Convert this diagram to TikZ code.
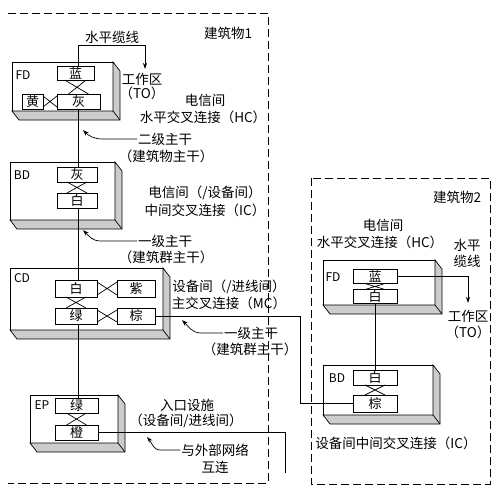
\documentclass[tikz,border=0pt]{standalone}
\usepackage{fontspec}
\setmainfont{Noto Sans CJK SC}
\usetikzlibrary{arrows.meta,calc}
\newcommand\threed[1]{%
  \filldraw[sidefill] (#1.north east) -- ++(7,9) -- ($(#1.south east)+(7,9)$) -- ($(#1.south west)+(7,9)$) -- (#1.south west) -- (#1.south east) -- cycle;
  \draw[thinline] (#1.south east) -- ++(7,9);}
\newcommand\vcross[2]{\draw[thinline] ($(#1.south)+(-10,0)$) -- ($(#2.north)+(10,0)$) ($(#1.south)+(10,0)$) -- ($(#2.north)+(-10,0)$);}
\newcommand\hcross[2]{\draw[thinline] ($(#1.north east)+(0,2)$) -- ($(#2.south west)+(0,-2)$) ($(#1.south east)+(0,-2)$) -- ($(#2.north west)+(0,2)$);}
\begin{document}
\begin{tikzpicture}[x=1pt,y=-1pt,
  every node/.style={inner sep=0pt, outer sep=0pt},
  thinline/.style={line width=0.7pt},
  lbl/.style={font=\fontsize{13.5pt}{15pt}\selectfont, inner sep=1pt},
  tag/.style={font=\fontsize{12pt}{14pt}\selectfont},
  face/.style={draw, line width=0.7pt, fill=white, anchor=north west},
  sidefill/.style={draw, line width=0.7pt, fill=black!20},
  ibox/.style={draw, line width=0.7pt, fill=white, font=\fontsize{13pt}{14pt}\selectfont},
  bldg/.style={line width=0.8pt, dash pattern=on 8pt off 4pt},
  arr/.style={thinline, -{Stealth[length=6pt,width=4pt]}},
  ptr/.style={thinline, -{Stealth[length=6pt,width=4pt]}}
]
\useasboundingbox (0,0) rectangle (502,498);

% buildings
\draw[bldg] (8,13) -- (268,13) -- (268,483) -- (8,483);
\draw[bldg] (311,178) rectangle (490,484);

% ---------- building 1 ----------
\node[face, minimum width=101pt, minimum height=49pt] (fd1) at (12,62) {};
\threed{fd1}
\node[face, minimum width=105pt, minimum height=58pt] (bd1) at (10,162) {};
\threed{bd1}
\node[face, minimum width=153pt, minimum height=62pt] (cd) at (10,268) {};
\threed{cd}
\node[face, minimum width=88pt, minimum height=48pt] (ep) at (30,395) {};
\threed{ep}

\node[ibox, minimum width=37pt, minimum height=14pt] (lan1) at (75.5,73.5) {蓝};
\node[ibox, minimum width=43pt, minimum height=15pt] (hui1) at (78.5,101.5) {灰};
\node[ibox, minimum width=21pt, minimum height=15pt] (huang) at (32.5,101.5) {黄};
\node[ibox, minimum width=40pt, minimum height=15pt] (hui2) at (77,174.5) {灰};
\node[ibox, minimum width=40pt, minimum height=15pt] (bai2) at (77,200.5) {白};
\node[ibox, minimum width=42pt, minimum height=17pt] (bai3) at (76,288.5) {白};
\node[ibox, minimum width=38pt, minimum height=17pt] (zi) at (136,288.5) {紫};
\node[ibox, minimum width=42pt, minimum height=16pt] (lv3) at (76,316) {绿};
\node[ibox, minimum width=38pt, minimum height=16pt] (zong3) at (136,316) {棕};
\node[ibox, minimum width=43pt, minimum height=15pt] (lv4) at (76.5,405.5) {绿};
\node[ibox, minimum width=43pt, minimum height=15pt] (cheng) at (76.5,432.5) {橙};

\vcross{lan1}{hui1}
\hcross{huang}{hui1}
\vcross{hui2}{bai2}
\vcross{bai3}{lv3}
\hcross{bai3}{zi}
\hcross{lv3}{zong3}
\vcross{lv4}{cheng}

\node[tag] (tfd1) at (23,75) {FD};
\node[tag] (tbd1) at (22,175) {BD};
\node[tag] (tcd) at (22,278) {CD};
\node[tag] (tep) at (42,405) {EP};

\node[lbl] (b1) at (228,33) {建筑物1};
\node[lbl] (hl1) at (112,37) {水平缆线};
\node[lbl] (wa1) at (142,79) {工作区};
\node[lbl] (wb1) at (142,93) {（TO）};
\node[lbl] (l1a) at (205,100) {电信间};
\node[lbl] (l1b) at (203,117) {水平交叉连接（HC）};
\node[lbl] (l2a) at (165,139) {二级主干};
\node[lbl] (l2b) at (166,156) {（建筑物主干）};
\node[lbl] (l3x) at (205,193) {电信间（/设备间）};
\node[lbl] (l3y) at (205,210) {中间交叉连接（IC）};
\node[lbl] (l3a) at (165,241) {一级主干};
\node[lbl] (l3b) at (166,257) {（建筑群主干）};
\node[lbl] (l4a) at (229,287) {设备间（/进线间）};
\node[lbl] (l4b) at (229,303) {主交叉连接（MC）};
\node[lbl] (l5a) at (251,333) {一级主干};
\node[lbl] (l5b) at (250,349) {（建筑群主干）};
\node[lbl] (l6a) at (187,405) {入口设施};
\node[lbl] (l6b) at (186,421) {（设备间/进线间）};
\node[lbl] (l7a) at (215,450) {与外部网络};
\node[lbl] (l7b) at (215,467) {互连};

\coordinate (t1) at (78,45);
\coordinate (to1) at (145,69);
\draw[arr] (lan1.north -| t1) -- (t1) -| (to1);
\draw[thinline] (hui1.south -| t1) -- (hui2.north -| t1);
\draw[thinline] (bai2.south -| t1) -- (bai3.north -| t1);
\draw[thinline] (lv3.south -| t1) -- (lv4.north -| t1);

\coordinate (c3) at (285,473);
\draw[thinline] (cheng.east) -| (c3);

\coordinate (p1) at (83,130);
\coordinate (p2) at (83,230);
\coordinate (p3) at (182,320);
\coordinate (p4) at (147,437);
\draw[ptr] (l2a.west) -- ++(-34,0) .. controls +(-9,0) and +(6,6) .. (p1);
\draw[ptr] (l3a.west) -- ++(-36,0) .. controls +(-9,0) and +(6,6) .. (p2);
\draw[ptr] (l5a.west) -- ++(-22,0) .. controls +(-9,0) and +(6,6) .. (p3);
\draw[ptr] (l7a.west) -- ++(-20,0) .. controls +(-7,0) and +(5,6) .. (p4);

% ---------- building 2 ----------
\node[face, minimum width=112pt, minimum height=45pt] (fd2) at (323,260) {};
\threed{fd2}
\node[face, minimum width=110pt, minimum height=50pt] (bd2) at (323,365) {};
\threed{bd2}

\node[ibox, minimum width=44pt, minimum height=14pt] (lan2) at (375,276.5) {蓝};
\node[ibox, minimum width=44pt, minimum height=14pt] (bai5) at (375,296.5) {白};
\node[ibox, minimum width=44pt, minimum height=15pt] (bai6) at (375,377.5) {白};
\node[ibox, minimum width=44pt, minimum height=17pt] (zong6) at (375,403.5) {棕};
\vcross{lan2}{bai5}
\vcross{bai6}{zong6}

\node[tag] (tfd2) at (333,277) {FD};
\node[tag] (tbd2) at (337,378) {BD};

\node[lbl] (b2) at (457,197) {建筑物2};
\node[lbl] (m1a) at (383,225) {电信间};
\node[lbl] (m1b) at (380,242) {水平交叉连接（HC）};
\node[lbl] (m2a) at (467,245) {水平};
\node[lbl] (m2b) at (467,261) {缆线};
\node[lbl] (m3a) at (468,316) {工作区};
\node[lbl] (m3b) at (468,332) {（TO）};
\node[lbl] (m4) at (396,443) {设备间中间交叉连接（IC）};

\coordinate (to2) at (468,303);
\draw[arr] (lan2.east) -| (to2);
\draw[thinline] (bai5.south) -- (bai6.north);
\coordinate (c1) at (300,316);
\draw[thinline] (zong3.east) -- (c1) |- (zong6.west);
\end{tikzpicture}
\end{document}
